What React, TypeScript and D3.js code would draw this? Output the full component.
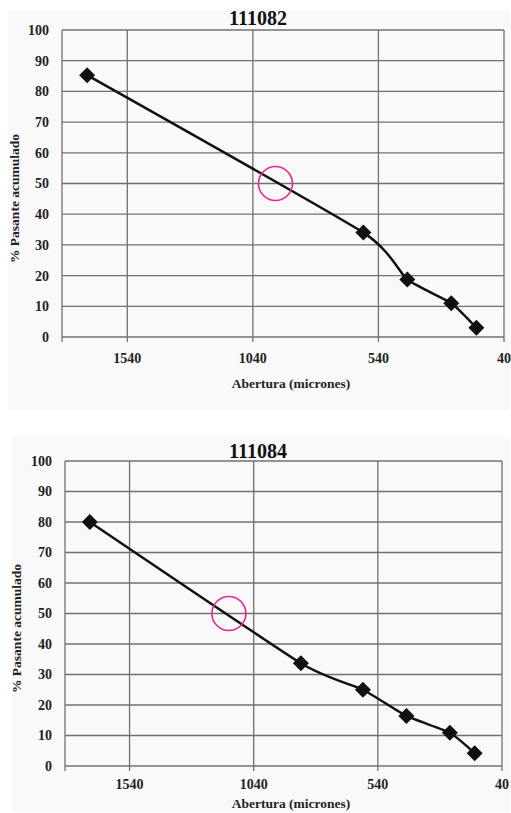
import React from 'react';
import * as d3 from 'd3';

// sieve openings (microns) and cumulative % passing
const sieve111082 = [1700, 600, 425, 250, 150];
const pass111082 = [85.3, 34, 18.7, 11, 3];
const d50_111082 = 950;

const sieve111084 = [1700, 850, 600, 425, 250, 150];
const pass111084 = [80, 33.7, 25, 16.4, 10.9, 4.2];
const d50_111084 = 1140;

const xTicks = [1540, 1040, 540, 40];
const yTicks = [0, 10, 20, 30, 40, 50, 60, 70, 80, 90, 100];
const xDomain = [1800, 40];

const FONT = 'Liberation Serif, DejaVu Serif, serif';

type Props = {
  title: string;
  sieves: number[];
  pass: number[];
  d50: number;
  box: { left: number; right: number; top: number; bottom: number };
  bg: { x: number; y: number; w: number; h: number };
  titleY: number;
  tickLabelDy: number;
  axisTitleY: number;
  yTitleX: number;
};

const Chart = ({ title, sieves, pass, d50, box, bg, titleY, tickLabelDy, axisTitleY, yTitleX }: Props) => {
  const x = d3.scaleLinear().domain(xDomain).range([box.left, box.right]);
  const y = d3.scaleLinear().domain([0, 100]).range([box.bottom, box.top]);
  const pts = sieves.map((s, i) => [s, pass[i]] as [number, number]);
  const line = d3
    .line<[number, number]>()
    .x(d => x(d[0]))
    .y(d => y(d[1]))
    .curve(d3.curveCardinal.tension(0.5));
  const marker = d3.symbol().type(d3.symbolSquare).size(128)();
  const grid = '#707070';
  const txt = { fontFamily: FONT, fontWeight: 'bold' as const };

  return (
    <g>
      <rect x={bg.x} y={bg.y} width={bg.w} height={bg.h} fill="#f9f9f9" />
      <text x={258} y={titleY} textAnchor="middle" fontSize={20} style={txt} fill="#111">
        {title}
      </text>
      {yTicks.map(t => (
        <g key={'y' + t}>
          <line x1={box.left} x2={box.right} y1={y(t)} y2={y(t)} stroke={grid} strokeWidth={1.3} />
          <text x={box.left - 13} y={y(t)} dy="0.35em" textAnchor="end" fontSize={14} style={txt} fill="#222">
            {t}
          </text>
        </g>
      ))}
      <line x1={box.left} x2={box.left} y1={box.top} y2={box.bottom + 5} stroke={grid} strokeWidth={1.3} />
      {xTicks.map(t => (
        <g key={'x' + t}>
          <line x1={x(t)} x2={x(t)} y1={box.top} y2={box.bottom + 5} stroke={grid} strokeWidth={1.3} />
          <text x={x(t)} y={box.bottom + tickLabelDy} textAnchor="middle" fontSize={14} style={txt} fill="#222">
            {t}
          </text>
        </g>
      ))}
      <path d={line(pts) || ''} fill="none" stroke="#111" strokeWidth={2.5} />
      {pts.map((d, i) => (
        <path key={i} d={marker || ''} transform={`translate(${x(d[0])},${y(d[1])}) rotate(45)`} fill="#111" />
      ))}
      <circle cx={x(d50)} cy={y(50)} r={17} fill="none" stroke="#e8249a" strokeWidth={1.6} />
      <text x={291} y={axisTitleY} textAnchor="middle" fontSize={13.5} style={txt} fill="#222">
        Abertura (micrones)
      </text>
      <text
        transform={`translate(${yTitleX},${(box.top + box.bottom) / 2 + 15}) rotate(-90)`}
        textAnchor="middle"
        fontSize={13.5}
        style={txt}
        fill="#222"
      >
        % Pasante acumulado
      </text>
    </g>
  );
};

export default function App() {
  return (
    <svg width={511} height={813} style={{ position: 'absolute', left: 0, top: 0, background: '#fff' }}>
      <Chart
        title="111082"
        sieves={sieve111082}
        pass={pass111082}
        d50={d50_111082}
        box={{ left: 62, right: 504, top: 30, bottom: 337 }}
        bg={{ x: 8, y: 10, w: 502, h: 400 }}
        titleY={25}
        tickLabelDy={26}
        axisTitleY={388}
        yTitleX={19}
      />
      <Chart
        title="111084"
        sieves={sieve111084}
        pass={pass111084}
        d50={d50_111084}
        box={{ left: 65, right: 502, top: 461, bottom: 766 }}
        bg={{ x: 12, y: 437, w: 498, h: 375 }}
        titleY={458}
        tickLabelDy={23}
        axisTitleY={808}
        yTitleX={21}
      />
    </svg>
  );
}
